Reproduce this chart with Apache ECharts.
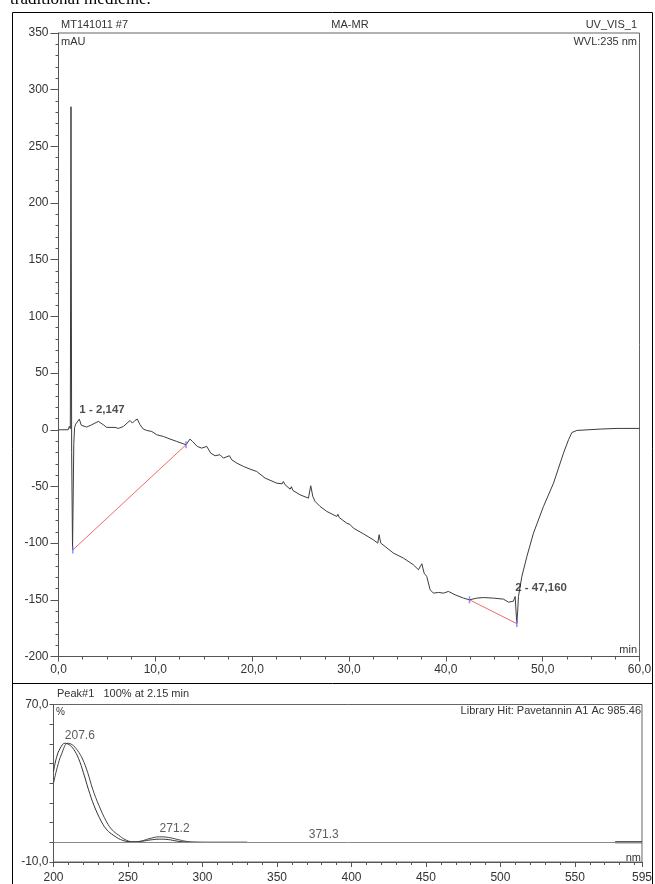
<!DOCTYPE html>
<html><head><meta charset="utf-8">
<script src="https://cdn.jsdelivr.net/npm/echarts@6/dist/echarts.min.js"></script>
<style>html,body{margin:0;padding:0;background:#fff}#c{width:655px;height:884px}</style>
</head><body><div id="c"></div>
<script>
// ---- Chromatogram (time in min, signal in mAU) ----
const chromPoints = [
 [0,0],[1.0,0],[1.12,3],[1.22,1],[1.29,285],[1.36,-20],[1.45,-106],[1.53,-106],[1.58,-12],[1.66,2],
 [1.78,5],[1.94,4],[2.15,9.4],[2.35,4],[2.55,2.5],[2.91,2.4],[3.43,4.4],[4.11,7.4],[4.63,4.4],[4.98,2.1],
 [5.84,2.1],[6.18,1.2],[6.70,2.9],[7.39,8.2],[7.63,5.9],[7.90,8.2],[8.14,9.4],[8.42,4.4],[8.76,0.6],[9.11,-0.6],
 [9.63,-1.5],[10.14,-4.4],[10.83,-5.9],[11.52,-8.2],[12.21,-10.3],[12.9,-12.4],[13.17,-13.2],[13.58,-8.2],[13.83,-10.3],[14.03,-8.8],
 [14.34,-14.7],[14.79,-16.2],[15.31,-14.7],[15.72,-20.6],[16.17,-22.9],[16.68,-22],[17.03,-25],[17.65,-22.9],[17.89,-26.5],[18.41,-29.4],
 [19.09,-32.3],[19.78,-34.7],[20.47,-36.8],[21.33,-42.6],[22.54,-47.1],[23.10,-47.7],[23.22,-45.6],[23.40,-48.5],[23.92,-52.4],[24.05,-50.2],
 [24.20,-53.5],[24.95,-57.4],[25.81,-60.3],[26.05,-49.4],[26.26,-58.8],[26.5,-63.2],[27.01,-67.6],[27.7,-72],[28.74,-76.5],[28.85,-74.5],
 [29.0,-77.5],[29.77,-82.4],[29.9,-81],[30.1,-83.5],[30.46,-86.8],[31.49,-91.8],[32.52,-97.1],[32.97,-100],[33.11,-92.6],[33.28,-100],
 [33.73,-103],[34.59,-108.8],[35.62,-113.2],[36.65,-119.1],[37.17,-123.5],[37.52,-118.2],[37.76,-126.5],[38.03,-129.4],[38.38,-141.2],[38.72,-144.1],
 [39.24,-143.5],[39.76,-144.1],[40.27,-142.6],[40.96,-145.6],[41.82,-148.5],[42.44,-150],[43.2,-148.5],[43.88,-148],[44.92,-148.5],[45.95,-149.4],
 [46.47,-152.1],[46.98,-151.2],[47.16,-147.1],[47.25,-160],[47.33,-170.6],[47.42,-160],[47.5,-147.1],[47.85,-129.4],[48.37,-111.8],[49.05,-91.2],
 [50.08,-67.7],[51.12,-47.1],[52.15,-20.6],[52.67,-8.8],[53.02,-2.4],[53.53,-0.6],[55.94,0.6],[57.67,1.2],[60,1.2]
];
const baseline1 = [[1.48,-106],[13.17,-13.2]];
const baseline2 = [[42.44,-150],[47.33,-171]];
const integrationMarks = [[1.48,-106],[13.17,-13.2],[42.44,-150],[47.33,-171]];
const chromPeaks = [[2.147,9.4,'1 - 2,147'],[47.16,-147,'2 - 47,160']];

// ---- UV spectrum (nm, %) ----
const specSample = [
 [200,36],[202,43],[204.5,47.8],[207.6,50.3],[210.5,49.6],[213.5,47.3],[216.8,42.6],[220.1,35.3],[223.4,27],[227.2,18.7],
 [232.3,10.3],[236,6.2],[240,3.7],[245,1.4],[250,0.4],[255,0.2],[260,0.6],[265,1.2],[271,1.6],[277,1.4],
 [283,0.6],[290,0.1],[300,0],[315,0],[330,0]
];
const specLibrary = [
 [200,30],[202.5,38],[205.5,45],[209.5,50.3],[212.5,49.6],[216,46.8],[219.5,42.3],[223,35.3],[226.3,27],[230.5,18.7],
 [235.7,10.3],[239.5,6.2],[243.6,3.7],[248,1.4],[253,0.3],[258,0.5],[264,1.8],[271.2,2.8],[277,2.5],[283,1.5],
 [289,0.5],[295,0.1],[305,0],[330,0]
];
const specTail = [[577,0],[595,0]];
const specPeaks = [[207.6,50.3,'207.6'],[271.2,2.8,'271.2'],[371.3,0,'371.3']];

const FONT = 'Liberation Sans, Arial, sans-serif';
const AX = '#555';
const TX = '#333';

const chart = echarts.init(document.getElementById('c'), null, {renderer:'canvas'});

const comma1 = v => v.toFixed(1).replace('.', ',');

chart.setOption({
  animation:false,
  backgroundColor:'#fff',
  grid:[
    {left:58.5, top:33, width:581, height:623.5, show:true, borderColor:'#666', borderWidth:1, containLabel:false},
    {left:53.5, top:704.5, width:590, height:159.5, show:true, borderColor:'#666', borderWidth:1, containLabel:false}
  ],
  xAxis:[
    {gridIndex:0, type:'value', min:0, max:60, interval:10,
     axisLine:{show:true, onZero:false, lineStyle:{color:AX}},
     axisTick:{show:true, length:5, lineStyle:{color:AX}},
     minorTick:{show:true, splitNumber:4, length:3, lineStyle:{color:AX}},
     splitLine:{show:false},
     axisLabel:{formatter:comma1, color:TX, fontSize:12, fontFamily:FONT, margin:7, showMaxLabel:true}},
    {gridIndex:1, type:'value', min:200, max:595, interval:50,
     axisLine:{show:true, onZero:false, lineStyle:{color:AX}},
     axisTick:{show:true, length:5, lineStyle:{color:AX}},
     minorTick:{show:true, splitNumber:5, length:3, lineStyle:{color:AX}},
     splitLine:{show:false},
     axisLabel:{color:TX, fontSize:12, fontFamily:FONT, margin:10, showMaxLabel:true}}
  ],
  yAxis:[
    {gridIndex:0, type:'value', min:-200, max:350, interval:50,
     axisLine:{show:true, onZero:false, lineStyle:{color:AX}},
     axisTick:{show:true, length:8, lineStyle:{color:AX}},
     minorTick:{show:true, splitNumber:5, length:3, lineStyle:{color:AX}},
     splitLine:{show:false},
     axisLabel:{color:TX, fontSize:12, fontFamily:FONT, margin:10}},
    {gridIndex:1, type:'value', min:-10, max:70, interval:10,
     axisLine:{show:true, onZero:false, lineStyle:{color:AX}},
     axisTick:{show:true, length:4, lineStyle:{color:AX}},
     splitLine:{show:false},
     axisLabel:{color:TX, fontSize:12, fontFamily:FONT, margin:5,
       formatter:v => (v===70 || v===-10) ? comma1(v) : ''}}
  ],
  series:[
    {type:'line', xAxisIndex:0, yAxisIndex:0, data:chromPoints, showSymbol:false,
     lineStyle:{color:'#3c3c3c', width:1}, z:3},
    {type:'line', xAxisIndex:0, yAxisIndex:0, data:baseline1, showSymbol:false,
     lineStyle:{color:'#f26a6a', width:1}, z:2},
    {type:'line', xAxisIndex:0, yAxisIndex:0, data:baseline2, showSymbol:false,
     lineStyle:{color:'#f26a6a', width:1}, z:2},
    {type:'scatter', xAxisIndex:0, yAxisIndex:0, data:integrationMarks, symbol:'rect', symbolSize:[1.5,7],
     itemStyle:{color:'#6f6fff'}, z:4},
    {type:'scatter', xAxisIndex:0, yAxisIndex:0, data:chromPeaks, symbolSize:0, z:5,
     label:{show:true, position:'top', align:'left', distance:3, formatter:p => p.data[2],
       color:'#222', fontSize:11.5, fontWeight:'bold', fontFamily:FONT}},
    {type:'line', xAxisIndex:1, yAxisIndex:1, data:specSample, showSymbol:false, smooth:0.4,
     lineStyle:{color:'#333', width:1}, z:3,
     markLine:{silent:true, symbol:'none', label:{show:false}, lineStyle:{color:'#8a8a8a', width:1, type:'solid'},
       data:[{yAxis:0}]}},
    {type:'line', xAxisIndex:1, yAxisIndex:1, data:specLibrary, showSymbol:false, smooth:0.4,
     lineStyle:{color:'#444', width:1}, z:3},
    {type:'line', xAxisIndex:1, yAxisIndex:1, data:specTail, showSymbol:false,
     lineStyle:{color:'#222', width:2}, z:3},
    {type:'scatter', xAxisIndex:1, yAxisIndex:1, data:specPeaks, symbolSize:0, z:5,
     label:{show:true, position:'top', align:'left', distance:2, formatter:p => p.data[2],
       color:'#333', fontSize:12, fontFamily:FONT}}
  ],
  graphic:[
    {type:'text', left:10, top:-9, style:{text:'traditional medicine.', font:'17px "Liberation Serif", serif', fill:'#000'}},
    {type:'rect', shape:{x:12.5, y:12.5, width:640, height:900}, style:{fill:'none', stroke:'#000', lineWidth:1}, silent:true},
    {type:'line', shape:{x1:12.5, y1:683.5, x2:652.5, y2:683.5}, style:{stroke:'#000', lineWidth:1}, silent:true},
    {type:'text', x:61, y:25, style:{text:'MT141011 #7', font:'11px '+FONT, fill:TX, textVerticalAlign:'middle'}},
    {type:'text', x:350, y:25, style:{text:'MA-MR', font:'11px '+FONT, fill:TX, textAlign:'center', textVerticalAlign:'middle'}},
    {type:'text', x:637, y:25, style:{text:'UV_VIS_1', font:'11px '+FONT, fill:TX, textAlign:'right', textVerticalAlign:'middle'}},
    {type:'text', x:61, y:42, style:{text:'mAU', font:'11px '+FONT, fill:TX, textVerticalAlign:'middle'}},
    {type:'text', x:637, y:42, style:{text:'WVL:235 nm', font:'11px '+FONT, fill:TX, textAlign:'right', textVerticalAlign:'middle'}},
    {type:'text', x:637, y:650, style:{text:'min', font:'11px '+FONT, fill:TX, textAlign:'right', textVerticalAlign:'middle'}},
    {type:'text', x:57, y:694, style:{text:'Peak#1   100% at 2.15 min', font:'11px '+FONT, fill:TX, textVerticalAlign:'middle'}},
    {type:'text', x:56, y:712, style:{text:'%', font:'10px '+FONT, fill:TX, textVerticalAlign:'middle'}},
    {type:'text', x:641, y:711, style:{text:'Library Hit: Pavetannin A1 Ac 985.46', font:'11px '+FONT, fill:TX, textAlign:'right', textVerticalAlign:'middle'}},
    {type:'text', x:641, y:858, style:{text:'nm', font:'11px '+FONT, fill:TX, textAlign:'right', textVerticalAlign:'middle'}}
  ]
});
</script></body></html>
